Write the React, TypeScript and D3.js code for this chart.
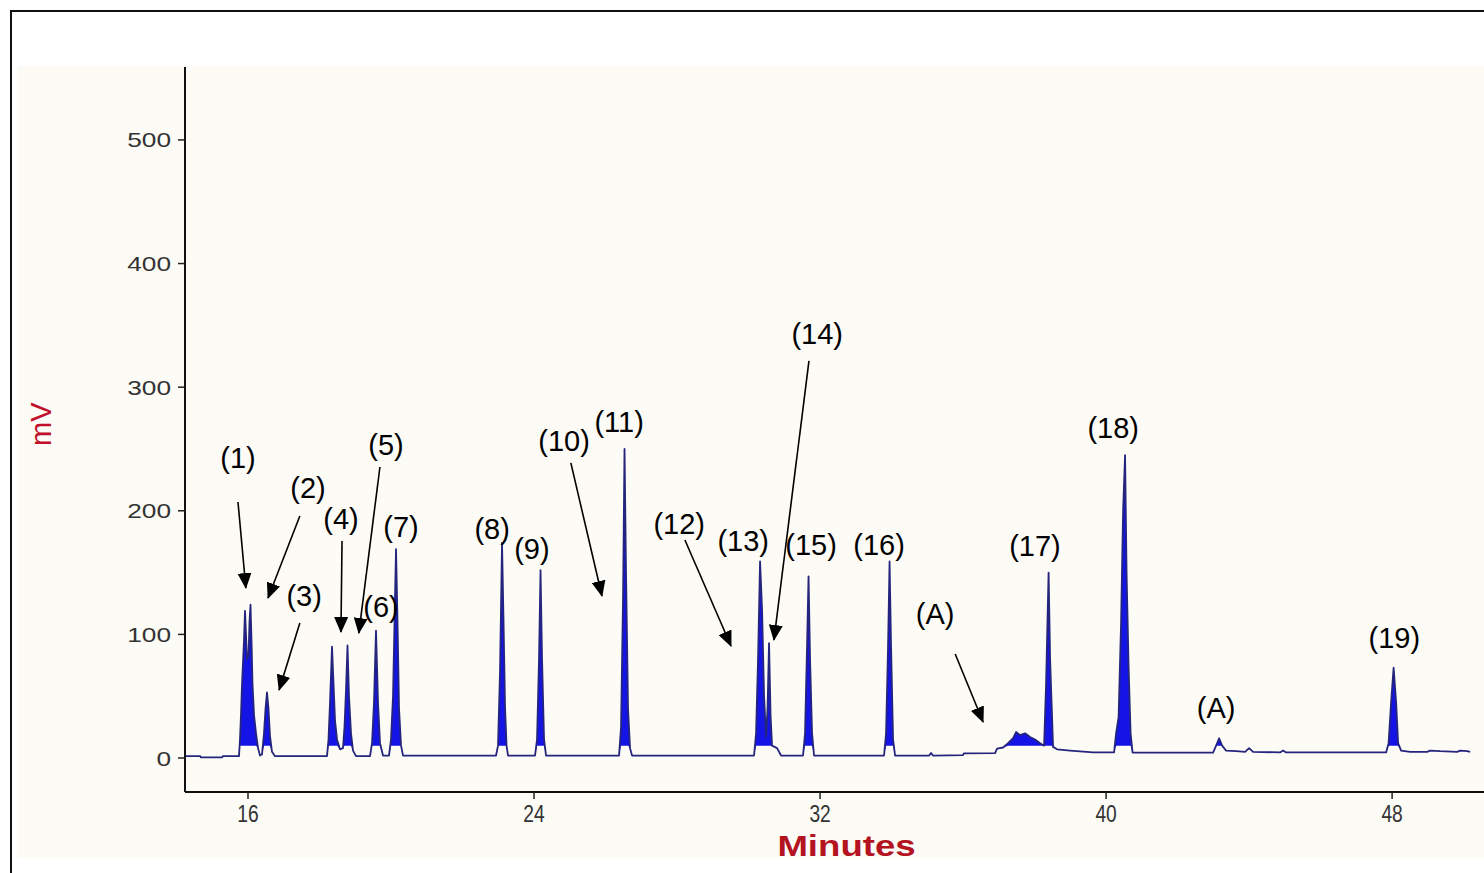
import React from "react";
import * as d3 from "d3";

// ---- data ----
const TRACE_T = [
  14.238, 14.66, 14.685, 15.273, 15.3, 15.748, 15.776, 15.804, 15.832, 15.888, 15.916, 15.944, 15.972,
  16.014, 16.042, 16.07, 16.098, 16.126, 16.168, 16.224, 16.28, 16.336, 16.392, 16.448, 16.49, 16.531,
  16.573, 16.615, 16.671, 16.755,
  18.21, 18.252, 18.294, 18.35, 18.392, 18.434, 18.49, 18.573, 18.657, 18.699, 18.741, 18.783, 18.825,
  18.881, 18.937, 19.021,
  19.413, 19.469, 19.524, 19.58, 19.636, 19.692, 19.776, 19.944, 20.0, 20.056, 20.098, 20.14, 20.182,
  20.224, 20.28, 20.336,
  22.937, 22.993, 23.049, 23.105, 23.147, 23.189, 23.231, 23.273,
  24.028, 24.084, 24.14, 24.182, 24.224, 24.28, 24.336,
  26.378, 26.434, 26.49, 26.531, 26.573, 26.629, 26.685, 26.741,
  30.154, 30.21, 30.266, 30.322, 30.378, 30.434, 30.49, 30.531, 30.573, 30.615, 30.657, 30.797, 30.909,
  31.524, 31.58, 31.636, 31.678, 31.72, 31.776, 31.832,
  33.79, 33.846, 33.902, 33.944, 33.986, 34.042, 34.098,
  35.049, 35.105, 35.161, 36.0, 36.028, 36.895, 36.951, 37.119, 37.259, 37.399, 37.483, 37.594, 37.734,
  37.874, 38.014, 38.154, 38.266, 38.322, 38.392, 38.434, 38.476, 38.517, 38.629, 38.993, 39.636,
  40.224, 40.28, 40.35, 40.42, 40.476, 40.531, 40.573, 40.629, 40.685, 40.741,
  42.993, 43.077, 43.161, 43.245, 43.357, 43.636, 43.888, 44.0, 44.112, 44.867, 44.951, 45.035,
  47.832, 47.902, 47.972, 48.042, 48.112, 48.168, 48.252, 48.503, 48.979, 49.063, 49.343, 49.818,
  49.902, 50.098, 50.182,
];
const TRACE_MV = [
  1.5, 1.5, 0.5, 0.5, 1.5, 1.5, 15, 35, 59, 95, 119, 100, 80,
  82, 110, 124, 95, 60, 35, 20, 8, 2, 3, 20, 40, 53,
  40, 18, 5, 1.5,
  1.5, 15, 45, 90, 60, 30, 15, 7, 8, 25, 55, 91, 50,
  20, 6, 1.5,
  1.5, 12, 45, 103, 45, 12, 2, 2, 15, 50, 110, 169, 110,
  40, 10, 2,
  2, 10, 70, 174, 110, 41, 10, 2,
  2, 15, 80, 152, 80, 15, 2,
  2, 25, 130, 250, 150, 40, 8, 2,
  2, 20, 80, 159, 120, 50, 17, 40, 93, 35, 10, 8, 2,
  2, 20, 90, 147, 80, 20, 2,
  2, 20, 90, 159, 90, 15, 2,
  2, 4, 2, 2.4, 3.8, 4, 7.5, 8.5, 12, 16, 21, 18.5, 20,
  17, 15, 12, 10, 60, 150, 80, 44, 9, 7, 6, 4.6,
  4.5, 20, 33, 110, 200, 245, 150, 74, 20, 4.3,
  4.3, 10, 16, 10, 6, 5.5, 5, 8, 5, 4.5, 6, 4.5,
  4.5, 12, 45, 73, 45, 12, 6, 5, 5, 6, 5.5, 5,
  6, 5.5, 5,
];

const X_TICKS = [16, 24, 32, 40, 48];
const Y_TICKS = [0, 100, 200, 300, 400, 500];

const LABELS = ["(1)", "(2)", "(3)", "(4)", "(5)", "(6)", "(7)", "(8)", "(9)", "(10)", "(11)", "(12)", "(13)", "(14)", "(15)", "(16)", "(A)", "(17)", "(18)", "(A)", "(19)"];
const LABEL_T = [15.72, 17.68, 17.57, 18.6, 19.86, 19.72, 20.28, 22.83, 23.94, 24.84, 26.38, 28.06, 29.85, 31.92, 31.75, 33.65, 35.22, 38.01, 40.2, 43.08, 48.06];
const LABEL_MV = [243.5, 219.3, 131.9, 194.2, 254, 123, 187.7, 186, 170, 257.3, 272.7, 190.1, 176.4, 343.9, 173.1, 173.1, 117.3, 172.3, 267.8, 41.3, 97.9];

// arrows: from (t, mV) to tip (t, mV)
const ARROW_FROM_T = [15.72, 17.45, 17.45, 18.63, 19.69, 25.03, 28.22, 31.69, 35.78];
const ARROW_FROM_MV = [207.1, 195.8, 109.2, 175.6, 235.4, 238.7, 176.4, 321.2, 84.1];
const ARROW_TO_T = [15.94, 16.56, 16.87, 18.6, 19.1, 25.9, 29.51, 30.71, 36.56];
const ARROW_TO_MV = [137.5, 129.4, 55.0, 101.9, 101.1, 131.1, 90.6, 95.5, 29.1];

const X_DOMAIN = [14.238, 50.57];
const Y_DOMAIN = [-27.5, 559];

export default function App() {
  const W = 1484, H = 873;
  const left = 185, right = 1484, top = 67, bottom = 792;
  const x = d3.scaleLinear().domain(X_DOMAIN).range([left, right]);
  const y = d3.scaleLinear().domain(Y_DOMAIN).range([bottom, top]);

  const pts = TRACE_T.map((t, i) => ({ t, v: TRACE_MV[i] }));
  const line = d3.line<any>().x(d => x(d.t)).y(d => y(d.v));
  const area = d3.area<any>().x(d => x(d.t)).y1(d => y(d.v)).y0(d => y(Math.min(d.v, 10)));

  const font = "'Liberation Sans', Arial, sans-serif";

  return (
    <svg width={W} height={H} style={{ position: "absolute", left: 0, top: 0, background: "#fff" }}>
      <defs>
        <marker id="ah" markerUnits="userSpaceOnUse" markerWidth={16} markerHeight={14} refX={15} refY={7} orient="auto">
          <path d="M0,0 L16,7 L0,14 Z" fill="#000" />
        </marker>
        <clipPath id="plotclip">
          <rect x={left} y={top} width={right - left} height={bottom - top} />
        </clipPath>
      </defs>
      <rect x={0} y={0} width={W} height={H} fill="#fff" />
      <rect x={17} y={66} width={W - 17} height={858 - 66} fill="#fcfbf6" />
      <rect x={11} y={11} width={W + 10} height={H + 10} fill="none" stroke="#111" strokeWidth={2} />

      {/* trace */}
      <g clipPath="url(#plotclip)">
        <path d={area(pts) || ""} fill="#1414e6" />
        <path d={line(pts) || ""} fill="none" stroke="#25257d" strokeWidth={1.8} strokeLinejoin="round" />
      </g>

      {/* axes */}
      <line x1={left} x2={left} y1={top} y2={bottom} stroke="#111" strokeWidth={2} />
      <line x1={left} x2={right} y1={bottom} y2={bottom} stroke="#111" strokeWidth={2} />
      {Y_TICKS.map(v => (
        <g key={"y" + v}>
          <line x1={left - 7} x2={left} y1={y(v)} y2={y(v)} stroke="#222" strokeWidth={1.5} />
          <g transform={`translate(${left - 14},${y(v)}) scale(1.25,1)`}>
            <text x={0} y={7.5} textAnchor="end" fontFamily={font} fontSize={21} fill="#333">{v}</text>
          </g>
        </g>
      ))}
      {X_TICKS.map(t => (
        <g key={"x" + t}>
          <line x1={x(t)} x2={x(t)} y1={bottom} y2={bottom + 7} stroke="#222" strokeWidth={1.5} />
          <g transform={`translate(${x(t)},${bottom + 30}) scale(0.8,1)`}>
            <text x={0} y={0} textAnchor="middle" fontFamily={font} fontSize={24} fill="#333">{t}</text>
          </g>
        </g>
      ))}

      {/* axis titles */}
      <g transform={`translate(${(left + right) / 2 + 12},856) scale(1.22,1)`}>
        <text x={0} y={0} textAnchor="middle" fontFamily={font} fontWeight="bold" fontSize={30} fill="#b3141f">Minutes</text>
      </g>
      <text transform={`translate(51,${y(270)}) rotate(-90)`} textAnchor="middle" fontFamily={font} fontSize={29} fill="#c0102a">mV</text>

      {/* annotations */}
      {ARROW_FROM_T.map((t, i) => (
        <line key={"a" + i} x1={x(t)} y1={y(ARROW_FROM_MV[i])} x2={x(ARROW_TO_T[i])} y2={y(ARROW_TO_MV[i])}
          stroke="#000" strokeWidth={1.6} markerEnd="url(#ah)" />
      ))}
      {LABELS.map((s, i) => (
        <text key={"l" + i} x={x(LABEL_T[i])} y={y(LABEL_MV[i]) + 11} textAnchor="middle" fontFamily={font} fontSize={29} fill="#000">{s}</text>
      ))}
    </svg>
  );
}
